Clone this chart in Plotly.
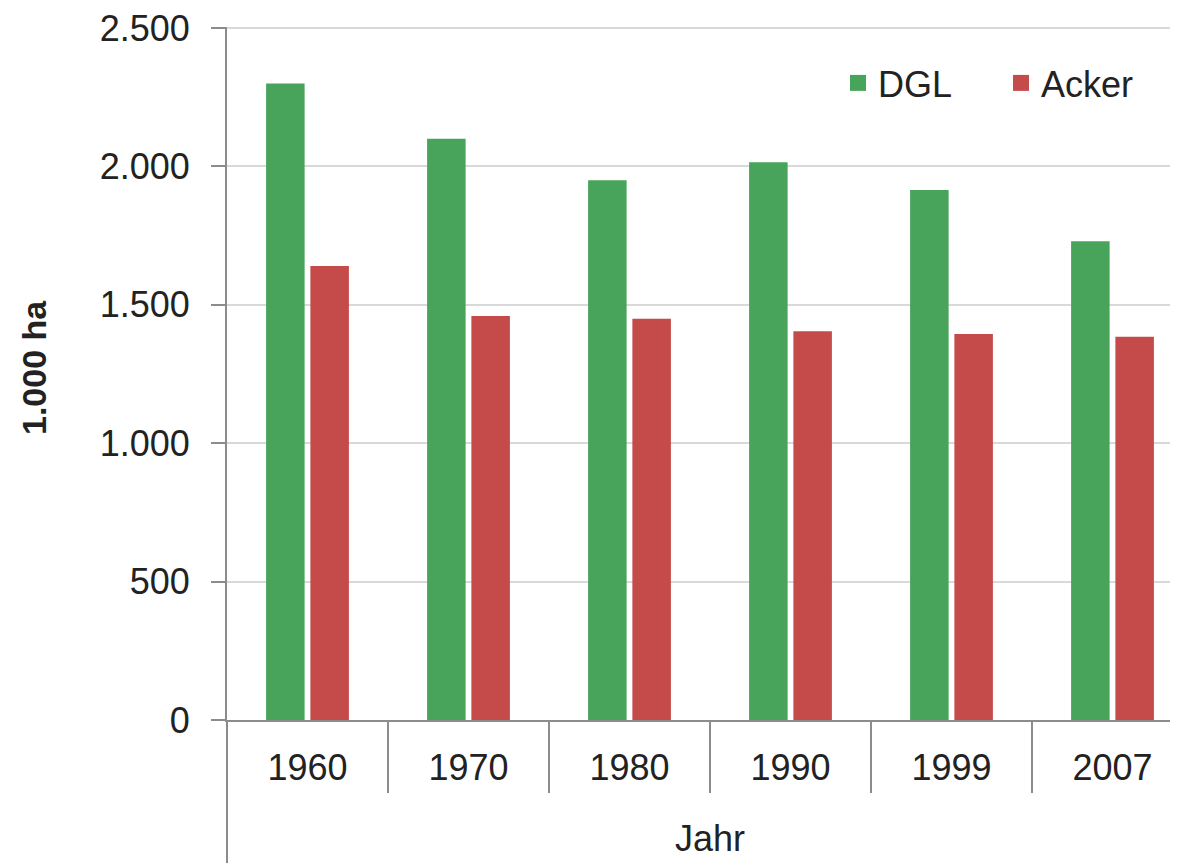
import plotly.graph_objects as go

years = ["1960", "1970", "1980", "1990", "1999", "2007"]
dgl = [2300, 2100, 1950, 2015, 1915, 1730]
acker = [1640, 1460, 1450, 1405, 1395, 1385]
y_ticks = [0, 500, 1000, 1500, 2000, 2500]
y_tick_labels = ["0", "500", "1.000", "1.500", "2.000", "2.500"]

GREEN = "#48A45A"
RED = "#C44B4A"
AXIS = "#8C8C8C"
GRID = "#D9D9D9"
TXT = "#222222"
FONT = "Liberation Sans, Arial, sans-serif"

OFF = 8  # page body margin
W, H = 1178 - OFF, 863 - OFF
ML, MT = 227 - OFF, 27 - OFF
AXIS_Y = 720 - OFF
MB = H - AXIS_Y
plot_h = H - MT - MB
plot_w = W - ML
cat_px = 161.0
x_hi = -0.5 + plot_w / cat_px


def px_x(x):
    return (x - OFF - ML) / plot_w


def px_y(y):
    return (AXIS_Y - (y - OFF)) / plot_h


fig = go.Figure()
fig.add_trace(go.Bar(x=years, y=dgl, name="DGL", marker=dict(color=GREEN, line=dict(width=0)),
                     showlegend=False))
fig.add_trace(go.Bar(x=years, y=acker, name="Acker", marker=dict(color=RED, line=dict(width=0)),
                     showlegend=False))
# legend proxies (larger square symbols)
fig.add_trace(go.Scatter(x=[None], y=[None], mode="markers", name="DGL",
                         marker=dict(symbol="square", size=20, color=GREEN)))
fig.add_trace(go.Scatter(x=[None], y=[None], mode="markers", name="Acker",
                         marker=dict(symbol="square", size=20, color=RED)))

# category separators below the x axis
for i in range(1, len(years)):
    fig.add_shape(type="line", xref="x", yref="paper", x0=i - 0.5, x1=i - 0.5,
                  y0=0, y1=-73 / plot_h, line=dict(color=AXIS, width=2), layer="above")
# y axis line extending below the plot
fig.add_shape(type="line", xref="paper", yref="paper", x0=0, x1=0, y0=0, y1=-MB / plot_h,
              line=dict(color=AXIS, width=2), layer="above")

fig.add_annotation(text="Jahr", xref="paper", yref="paper",
                   x=px_x(710), y=px_y(838),
                   xanchor="center", yanchor="middle", showarrow=False,
                   font=dict(family=FONT, size=36, color=TXT))
fig.add_annotation(text="<b>1.000 ha</b>", xref="paper", yref="paper",
                   x=px_x(34), y=px_y(368), textangle=-90,
                   xanchor="center", yanchor="middle", showarrow=False,
                   font=dict(family=FONT, size=34, color=TXT))

fig.update_layout(
    width=W, height=H,
    margin=dict(l=ML, r=0, t=MT, b=MB),
    paper_bgcolor="white", plot_bgcolor="white",
    barmode="group", bargap=0.45, bargroupgap=0.13,
    font=dict(family=FONT, size=36, color=TXT),
    legend=dict(orientation="h", x=px_x(838), y=px_y(83),
                xanchor="left", yanchor="middle", bgcolor="rgba(0,0,0,0)",
                font=dict(family=FONT, size=36, color=TXT),
                entrywidth=118, entrywidthmode="pixels", itemclick=False),
    xaxis=dict(type="category", range=[-0.5, x_hi], showline=True, linecolor=AXIS, linewidth=2,
               ticks="", showgrid=False, ticklabelstandoff=15,
               tickfont=dict(family=FONT, size=36, color=TXT)),
    yaxis=dict(range=[0, 2504], tickvals=y_ticks, ticktext=y_tick_labels,
               showline=True, linecolor=AXIS, linewidth=2,
               ticks="outside", ticklen=14, tickcolor=AXIS, tickwidth=2,
               showgrid=True, gridcolor=GRID, gridwidth=1.5, zeroline=False,
               ticklabelstandoff=14, ticklabeloverflow="allow",
               tickfont=dict(family=FONT, size=36, color=TXT)),
)
fig.update_yaxes(automargin=False)
fig.update_xaxes(automargin=False)

fig.write_html("out.html")
